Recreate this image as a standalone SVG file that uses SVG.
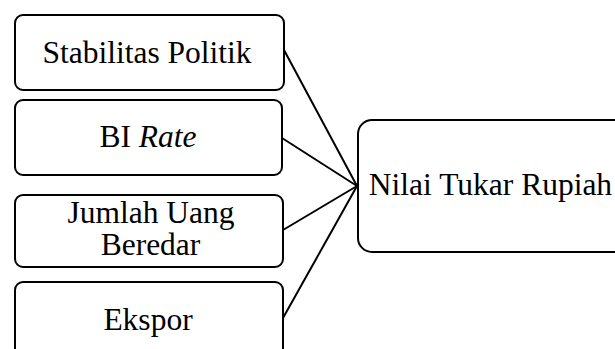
<svg xmlns="http://www.w3.org/2000/svg" width="615" height="349" viewBox="0 0 615 349">
<style>
.box{fill:#fff;stroke:#000;stroke-width:2}
.c{stroke:#000;stroke-width:2;fill:none}
</style>
<rect width="615" height="349" fill="#fff"/>
<g id="connectors">
<line class="c" x1="284" y1="50" x2="357" y2="186"/>
<line class="c" x1="282" y1="138" x2="357" y2="186"/>
<line class="c" x1="283" y1="230" x2="357" y2="186"/>
<line class="c" x1="283" y1="318" x2="357" y2="186"/>
</g>
<g font-family="'Liberation Serif', 'Times New Roman', serif" font-size="31.5" fill="#000" text-anchor="middle">
<g id="n1"><rect class="box" x="15" y="15" width="269" height="75" rx="8"/><text x="147" y="63">Stabilitas Politik</text></g>
<g id="n2"><rect class="box" x="15" y="100" width="267" height="75" rx="8"/><text x="148" y="147">BI <tspan font-style="italic">Rate</tspan></text></g>
<g id="n3"><rect class="box" x="15" y="195" width="268" height="72" rx="8"/><text x="151" y="223">Jumlah Uang</text><text x="150.5" y="255">Beredar</text></g>
<g id="n4"><rect class="box" x="15" y="282" width="268" height="80" rx="8"/><text x="148" y="330">Ekspor</text></g>
<g id="target"><rect class="box" x="358" y="120" width="270" height="132" rx="14"/><text x="490.5" y="195">Nilai Tukar Rupiah</text></g>
</g>
</svg>
